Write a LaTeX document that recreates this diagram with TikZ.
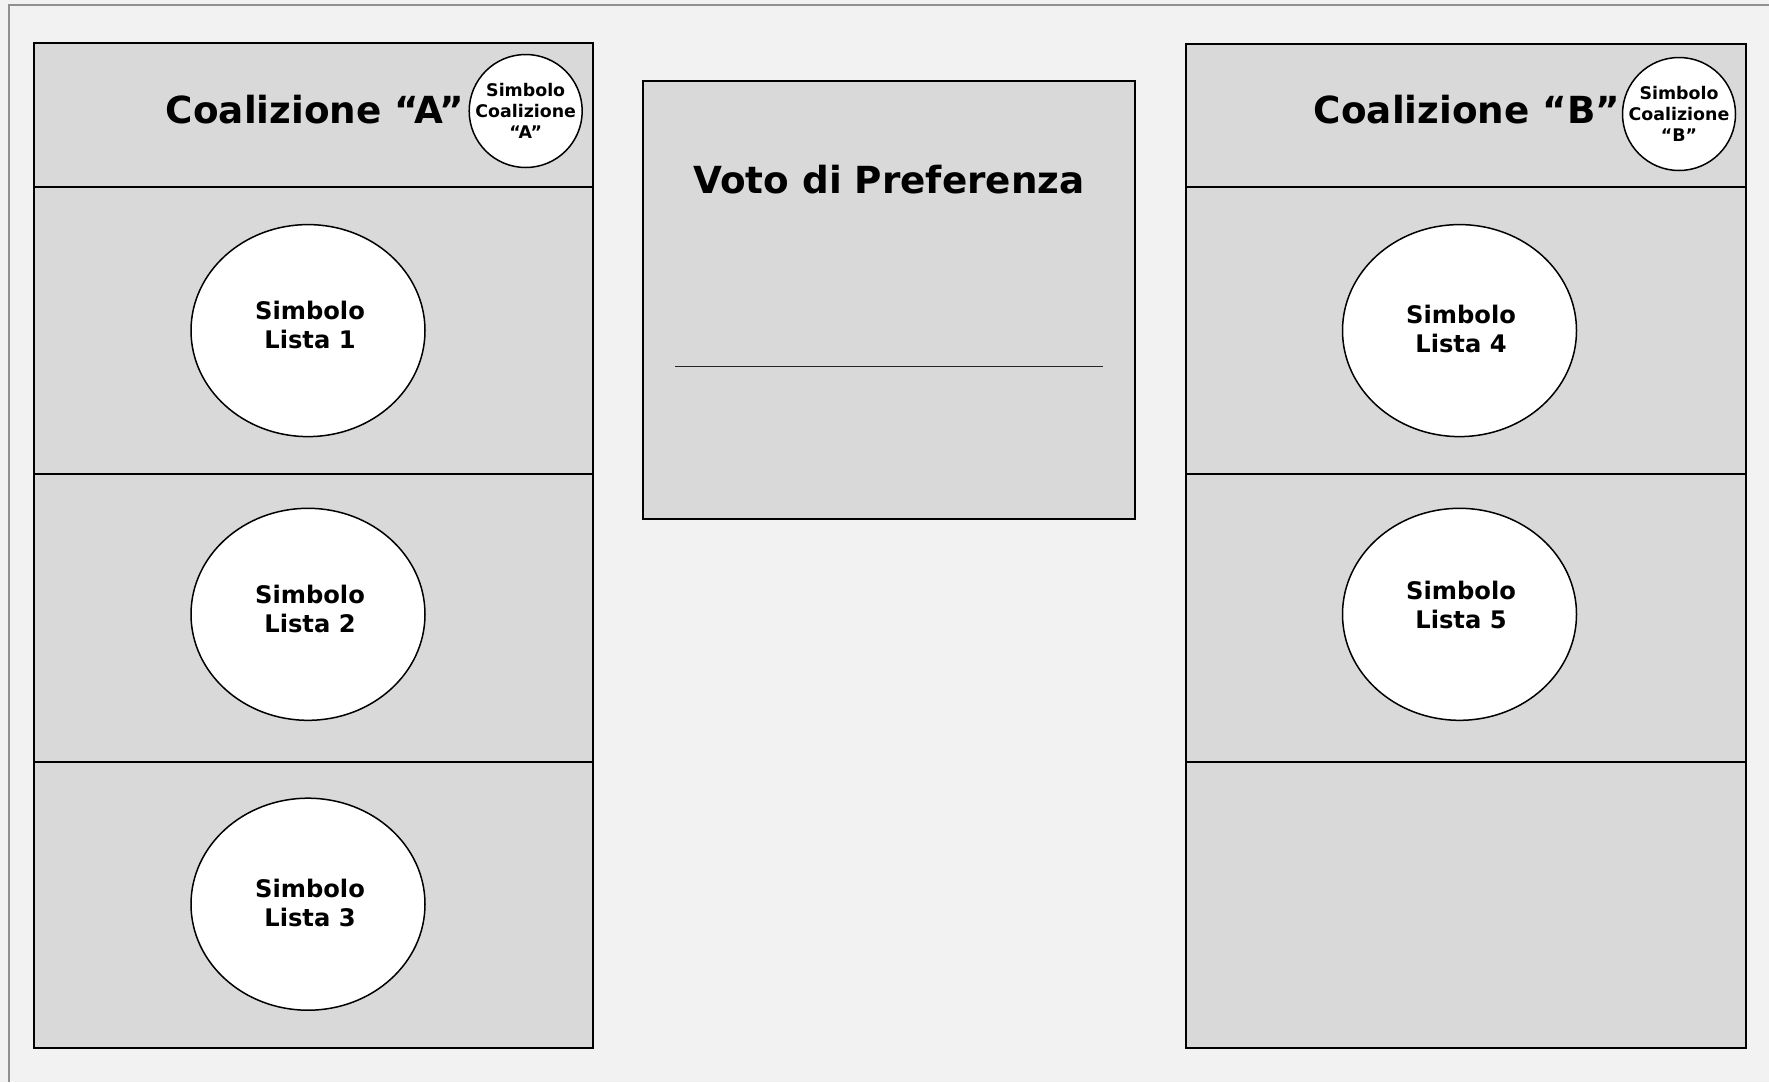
\documentclass[tikz,border=0pt]{standalone}
\usepackage{fontspec}
\setmainfont{DejaVu Sans}
\usetikzlibrary{shapes.geometric}
\definecolor{bg}{HTML}{F2F2F2}
\definecolor{panelfill}{HTML}{D9D9D9}
\definecolor{framegray}{HTML}{909090}
\tikzset{
  panel/.style={draw=black, line width=2pt, fill=panelfill},
  sym/.style={ellipse, draw=black, line width=1.5pt, fill=white, inner sep=0pt, minimum width=234pt, minimum height=212pt},
  symtext/.style={align=center, font=\fontsize{24.2}{29}\selectfont\bfseries, inner sep=0pt},
  coin/.style={circle, draw=black, line width=1.5pt, fill=white, inner sep=0pt, minimum size=113pt},
  cointext/.style={align=center, font=\fontsize{17.4}{21}\selectfont\bfseries, inner sep=0pt},
  title/.style={font=\fontsize{37.3}{42}\selectfont\bfseries, inner sep=0pt, anchor=base},
}
\begin{document}
\begin{tikzpicture}[x=1pt,y=-1pt]
\useasboundingbox (0,0) rectangle (1769,1082);
\fill[bg] (0,0) rectangle (1769,1082);
\draw[framegray, line width=2pt] (8.5,1082) -- (8.5,4.7) -- (1769,4.7);

% left column
\draw[panel] (34,43) rectangle (593,187);
\draw[panel] (34,187) rectangle (593,474);
\draw[panel] (34,474) rectangle (593,761.5);
\draw[panel] (34,761.5) rectangle (593,1048);

% right column
\draw[panel] (1186,44) rectangle (1746,187);
\draw[panel] (1186,187) rectangle (1746,474);
\draw[panel] (1186,474) rectangle (1746,761.5);
\draw[panel] (1186,761.5) rectangle (1746,1048);

% middle box
\draw[panel] (643,80.5) rectangle (1135,519);
\node[title] (voto) at (889,193) {Voto di Preferenza};
\coordinate (lineL) at (675,366.5);
\coordinate (lineR) at (1103,366.5);
\draw[line width=1.8pt, black!85] (lineL) -- (lineR);

% headers
\node[title] (coalA) at (315,123) {Coalizione “A”};
\node[coin] (cA) at (525.7,111) {};
\node[cointext] (cAt) at (525.7,111) {Simbolo\\Coalizione\\“A”};

\node[title] (coalB) at (1467,123) {Coalizione “B”};
\node[coin] (cB) at (1679,114) {};
\node[cointext] (cBt) at (1679,114) {Simbolo\\Coalizione\\“B”};

% list symbols left
\node[sym] (l1) at (308,330.6) {};
\node[symtext] (l1t) at (310,325) {Simbolo\\Lista 1};
\node[sym] (l2) at (308,614.3) {};
\node[symtext] (l2t) at (310,609) {Simbolo\\Lista 2};
\node[sym] (l3) at (308,904.2) {};
\node[symtext] (l3t) at (310,903) {Simbolo\\Lista 3};

% list symbols right
\node[sym] (r4) at (1459.5,330.6) {};
\node[symtext] (r4t) at (1461,329) {Simbolo\\Lista 4};
\node[sym] (r5) at (1459.5,614.3) {};
\node[symtext] (r5t) at (1461,605) {Simbolo\\Lista 5};
\end{tikzpicture}
\end{document}
